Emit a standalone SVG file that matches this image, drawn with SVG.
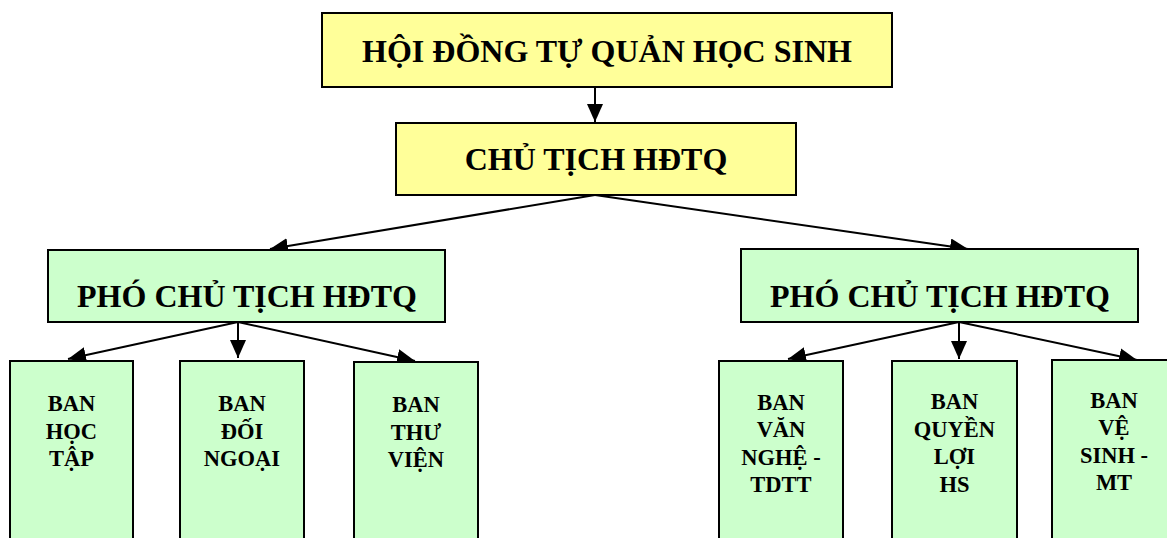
<svg xmlns="http://www.w3.org/2000/svg" width="1167" height="538" viewBox="0 0 1167 538">
<style>
.y{fill:#FFFF99;stroke:#000;stroke-width:2}
.g{fill:#CCFFCC;stroke:#000;stroke-width:2}
.t{font-family:"Liberation Serif","Times New Roman",serif;font-weight:bold;fill:#000;text-anchor:middle}
.big{font-size:32px}
.sm{font-size:22.5px}
.c{stroke:#000;stroke-width:2;fill:none;marker-end:url(#ah)}
</style>
<defs>
<marker id="ah" markerUnits="userSpaceOnUse" markerWidth="18" markerHeight="16" refX="18" refY="8" orient="auto">
<path d="M0,0 L18,8 L0,16 z" fill="#000"/>
</marker>
</defs>
<rect width="1167" height="538" fill="#fff"/>
<g id="connectors">
<line class="c" x1="595" y1="87" x2="595" y2="122"/>
<line class="c" x1="595" y1="195" x2="270" y2="249"/>
<line class="c" x1="595" y1="195" x2="968" y2="249"/>
<line class="c" x1="238" y1="322" x2="68" y2="359"/>
<line class="c" x1="238" y1="322" x2="238" y2="358"/>
<line class="c" x1="238" y1="322" x2="415" y2="361"/>
<line class="c" x1="959" y1="322" x2="788" y2="359"/>
<line class="c" x1="959" y1="322" x2="959" y2="359"/>
<line class="c" x1="959" y1="322" x2="1137" y2="360"/>
</g>
<g id="hoi-dong">
<rect class="y" x="322" y="13" width="570" height="74"/>
<text class="t big" x="607" y="62">HỘI ĐỒNG TỰ QUẢN HỌC SINH</text>
</g>
<g id="chu-tich">
<rect class="y" x="396" y="123" width="400" height="72"/>
<text class="t big" x="596" y="170">CHỦ TỊCH HĐTQ</text>
</g>
<g id="pho-chu-tich-1">
<rect class="g" x="48" y="250" width="397" height="72"/>
<text class="t big" x="247" y="307">PHÓ CHỦ TỊCH HĐTQ</text>
</g>
<g id="pho-chu-tich-2">
<rect class="g" x="741" y="249" width="397" height="73"/>
<text class="t big" x="940" y="307">PHÓ CHỦ TỊCH HĐTQ</text>
</g>
<g id="ban-hoc-tap">
<rect class="g" x="10" y="361" width="123" height="190"/>
<text class="t sm" x="71.5"><tspan x="71.5" y="411">BAN</tspan><tspan x="71.5" y="438.5">HỌC</tspan><tspan x="71.5" y="466">TẬP</tspan></text>
</g>
<g id="ban-doi-ngoai">
<rect class="g" x="180" y="361" width="124" height="190"/>
<text class="t sm" x="242"><tspan x="242" y="411">BAN</tspan><tspan x="242" y="438.5">ĐỐI</tspan><tspan x="242" y="466">NGOẠI</tspan></text>
</g>
<g id="ban-thu-vien">
<rect class="g" x="354" y="362" width="124" height="190"/>
<text class="t sm" x="416"><tspan x="416" y="412">BAN</tspan><tspan x="416" y="440">THƯ</tspan><tspan x="416" y="467">VIỆN</tspan></text>
</g>
<g id="ban-van-nghe">
<rect class="g" x="719" y="361" width="124" height="190"/>
<text class="t sm" x="781"><tspan x="781" y="410">BAN</tspan><tspan x="781" y="437">VĂN</tspan><tspan x="781" y="465">NGHỆ -</tspan><tspan x="781" y="492">TDTT</tspan></text>
</g>
<g id="ban-quyen-loi">
<rect class="g" x="892" y="361" width="125" height="190"/>
<text class="t sm" x="954.5"><tspan x="954.5" y="409">BAN</tspan><tspan x="954.5" y="437">QUYỀN</tspan><tspan x="954.5" y="464">LỢI</tspan><tspan x="954.5" y="492">HS</tspan></text>
</g>
<g id="ban-ve-sinh">
<rect class="g" x="1052" y="360" width="124" height="190"/>
<text class="t sm" x="1114"><tspan x="1114" y="408">BAN</tspan><tspan x="1114" y="435">VỆ</tspan><tspan x="1114" y="463">SINH -</tspan><tspan x="1114" y="490">MT</tspan></text>
</g>
</svg>
